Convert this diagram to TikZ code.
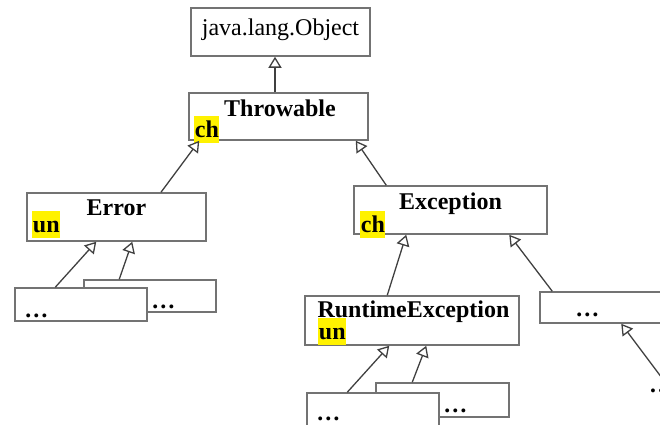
\documentclass[tikz,border=0pt]{standalone}
\usepackage{fontspec}
\setmainfont{Liberation Serif}
\usetikzlibrary{calc, arrows.meta, positioning}

\newcommand{\umlfont}{\fontsize{24}{28}\selectfont}

\begin{document}
\begin{tikzpicture}[
    x=1pt, y=-1pt,
    >={Triangle[open, length=11pt, width=13pt]},
    cls/.style={rectangle, draw=black!55, line width=1.5pt, fill=white,
        inner sep=0pt, font=\umlfont},
    title/.style={anchor=base, inner sep=0pt, font=\umlfont\bfseries},
    tag/.style={anchor=south west, fill=yellow, inner xsep=0.5pt, inner ysep=0pt,
        text height=22pt, text depth=5pt, font=\umlfont\bfseries},
    dots/.style={anchor=base west, inner sep=0pt, font=\umlfont\bfseries},
    inh/.style={->, draw=black!75, line width=1.3pt}
]

    \useasboundingbox (0,0) rectangle (660,424);
    \clip (0,0) rectangle (660,424);

    % Nodes ------------------------------------------------------

    \node[cls, minimum width=179pt, minimum height=48pt,
        text height=17pt, text depth=11pt] (obj) at (280.5,32) {java.lang.Object};
    \node[cls, minimum width=179pt, minimum height=47pt] (thr) at (278.5,116.5) {};
    \node[cls, minimum width=179pt, minimum height=48pt] (err) at (116.5,217) {};
    \node[cls, minimum width=193pt, minimum height=48pt] (exc) at (450.5,210) {};
    \node[cls, minimum width=214pt, minimum height=49pt] (rte) at (412,320.5) {};
    \node[cls, minimum width=140pt, minimum height=31pt] (rdots) at (610,307.5) {};
    \node[cls, minimum width=132pt, minimum height=32pt] (e2) at (150,296) {};
    \node[cls, minimum width=132pt, minimum height=33pt] (e1) at (81,304.5) {};
    \node[cls, minimum width=133pt, minimum height=34pt] (r2) at (442.5,400) {};
    \node[cls, minimum width=132pt, minimum height=33pt] (r1) at (373,409.5) {};
    \coordinate (far) at (680,402);

    % labels
    \node[title] (thr_label) at ($(thr.north)+(1.5,24)$) {Throwable};
    \node[title] (err_label) at ($(err.north)+(0,23)$) {Error};
    \node[title] (exc_label) at ($(exc.north)+(0,24)$) {Exception};
    \node[title] (rte_label) at ($(rte.north)+(1.5,22)$) {RuntimeException};

    \node[tag] (thr_tag) at ($(thr.south west)+(6,2)$) {ch};
    \node[tag] (err_tag) at ($(err.south west)+(6,-4)$) {un};
    \node[tag] (exc_tag) at ($(exc.south west)+(7,3)$) {ch};
    \node[tag] (rte_tag) at ($(rte.south west)+(14,-1)$) {un};

    \node[dots] (e1_label) at ($(e1.south west)+(10,-4)$) {…};
    \node[dots] (e2_label) at ($(e2.south west)+(68,-4)$) {…};
    \node[dots] (r1_label) at ($(r1.south west)+(10,-6)$) {…};
    \node[dots] (r2_label) at ($(r2.south west)+(68,-5)$) {…};
    \node[dots] (rdots_label) at ($(rdots.south west)+(36,-7)$) {…};
    \node[dots] (far_label) at (649,392) {…};

    % Arrows ---------------------------------------------------

    \draw[inh] ($(thr.north)+(-3.5,0)$) -- ($(obj.south)+(-5.5,0)$);
    \draw[inh] ($(err.north)+(44.5,0)$) -- ($(thr.south west)+(11,0)$);
    \draw[inh] ($(exc.north west)+(33,0)$) -- ($(thr.south east)+(-13,0)$);
    \draw[inh] ($(e1.north west)+(41,0)$) -- ($(err.south west)+(70,0)$);
    \draw[inh] ($(e2.north west)+(36,0)$) -- ($(err.south west)+(106,0)$);
    \draw[inh] ($(rte.north west)+(83,0)$) -- ($(exc.south west)+(53,0)$);
    \draw[inh] ($(rdots.north west)+(13,0)$) -- ($(exc.south west)+(156,0)$);
    \draw[inh] ($(r1.north west)+(41,0)$) -- ($(rte.south west)+(85,0)$);
    \draw[inh] ($(r2.north west)+(37,0)$) -- ($(rte.south west)+(122,0)$);
    \draw[inh] (far) -- ($(rdots.south west)+(82,0)$);

\end{tikzpicture}
\end{document}
